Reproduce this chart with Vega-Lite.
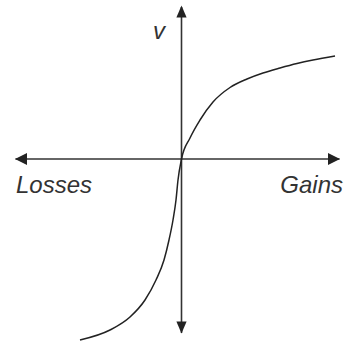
{
  "$schema": "https://vega.github.io/schema/vega-lite/v6.json",
  "width": 345,
  "height": 343,
  "autosize": {"type": "none"},
  "padding": 0,
  "background": "white",
  "config": {"view": {"stroke": null}},
  "datasets": {
    "curve": [
      {"x": -101.5, "y": -181}, {"x": -71.5, "y": -171}, {"x": -51.5, "y": -158},
      {"x": -36.5, "y": -141}, {"x": -25.5, "y": -121}, {"x": -17.5, "y": -101},
      {"x": -12.5, "y": -81}, {"x": -8.5, "y": -61}, {"x": -5.5, "y": -41},
      {"x": -3.5, "y": -21}, {"x": 0, "y": 0}, {"x": 8.5, "y": 21},
      {"x": 18.5, "y": 39}, {"x": 31.5, "y": 57}, {"x": 48.5, "y": 71.5},
      {"x": 65.5, "y": 80}, {"x": 81.5, "y": 86}, {"x": 98.5, "y": 91},
      {"x": 115.5, "y": 95.5}, {"x": 131.5, "y": 99}, {"x": 153.5, "y": 103}
    ],
    "axes": [
      {"x1": -166, "x2": 158, "y1": 0, "y2": 0},
      {"x1": 0, "x2": 0, "y1": 152, "y2": -174}
    ],
    "arrows": [
      {"x": -160.5, "y": 0, "dir": "left"},
      {"x": 152.5, "y": 0, "dir": "right"},
      {"x": 0, "y": 147.5, "dir": "up"},
      {"x": 0, "y": -168.5, "dir": "down"}
    ],
    "labelsLeft": [
      {"x": -165.5, "y": -34, "label": "Losses"},
      {"x": -28.5, "y": 120, "label": "v"}
    ],
    "labelsRight": [
      {"x": 161.5, "y": -34, "label": "Gains"}
    ]
  },
  "layer": [
    {
      "data": {"name": "axes"},
      "mark": {"type": "rule", "color": "#333333", "strokeWidth": 1.6},
      "encoding": {
        "x": {"field": "x1", "type": "quantitative", "scale": {"domain": [-181.5, 163.5], "nice": false, "zero": false}, "axis": null},
        "x2": {"field": "x2"},
        "y": {"field": "y1", "type": "quantitative", "scale": {"domain": [-184, 159], "nice": false, "zero": false}, "axis": null},
        "y2": {"field": "y2"}
      }
    },
    {
      "data": {"name": "arrows"},
      "mark": {"type": "point", "filled": true, "color": "#222222", "opacity": 1, "size": 144},
      "encoding": {
        "x": {"field": "x", "type": "quantitative"},
        "y": {"field": "y", "type": "quantitative"},
        "shape": {
          "field": "dir", "type": "nominal", "legend": null,
          "scale": {
            "domain": ["left", "right", "up", "down"],
            "range": ["M-1,0L1,-1L1,1Z", "M1,0L-1,-1L-1,1Z", "M0,-1L0.85,1L-0.85,1Z", "M0,1L0.85,-1L-0.85,-1Z"]
          }
        }
      }
    },
    {
      "data": {"name": "curve"},
      "mark": {"type": "line", "color": "#222222", "strokeWidth": 1.5, "interpolate": "monotone"},
      "encoding": {
        "x": {"field": "x", "type": "quantitative"},
        "y": {"field": "y", "type": "quantitative"}
      }
    },
    {
      "data": {"name": "labelsLeft"},
      "mark": {"type": "text", "font": "Liberation Sans", "fontStyle": "italic", "fontSize": 24, "color": "#333333", "baseline": "alphabetic", "align": "left"},
      "encoding": {
        "x": {"field": "x", "type": "quantitative"},
        "y": {"field": "y", "type": "quantitative"},
        "text": {"field": "label"}
      }
    },
    {
      "data": {"name": "labelsRight"},
      "mark": {"type": "text", "font": "Liberation Sans", "fontStyle": "italic", "fontSize": 24, "color": "#333333", "baseline": "alphabetic", "align": "right"},
      "encoding": {
        "x": {"field": "x", "type": "quantitative"},
        "y": {"field": "y", "type": "quantitative"},
        "text": {"field": "label"}
      }
    }
  ]
}
